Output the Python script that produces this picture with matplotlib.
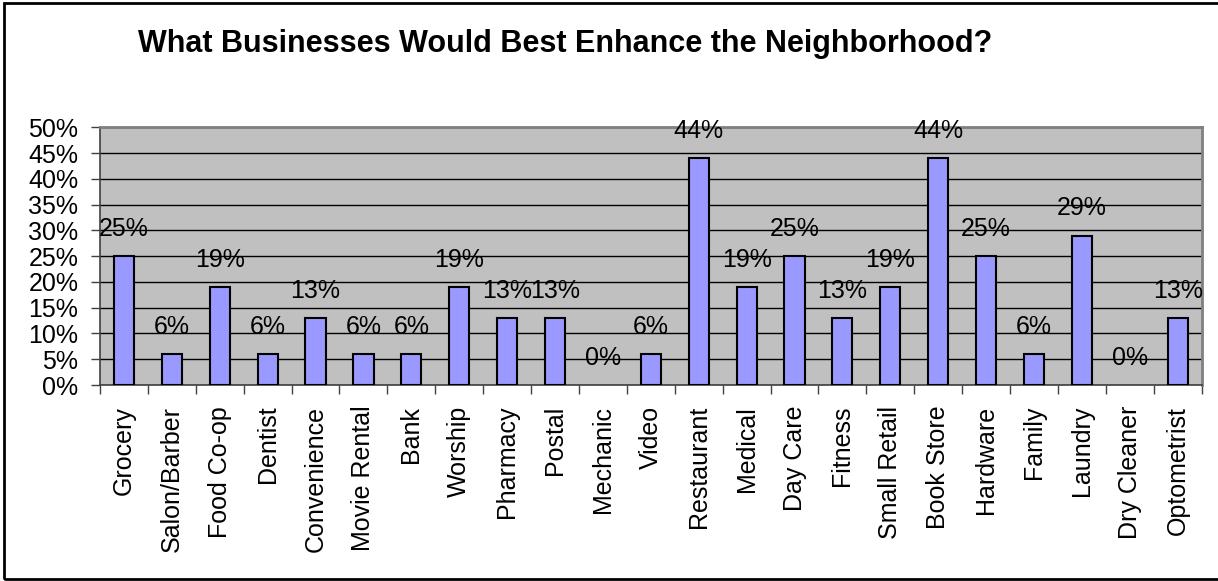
import matplotlib
matplotlib.use("Agg")
import matplotlib.pyplot as plt
from matplotlib.patches import Rectangle
import numpy as np

# data (percent of respondents)
categories = ['Grocery', 'Salon/Barber', 'Food Co-op', 'Dentist', 'Convenience',
              'Movie Rental', 'Bank', 'Worship', 'Pharmacy', 'Postal', 'Mechanic',
              'Video', 'Restaurant', 'Medical', 'Day Care', 'Fitness', 'Small Retail',
              'Book Store', 'Hardware', 'Family', 'Laundry', 'Dry Cleaner', 'Optometrist']
values = [25, 6, 19, 6, 13, 6, 6, 19, 13, 13, 0, 6, 44, 19, 25, 13, 19, 44, 25, 6, 29, 0, 13]
y_ticks = [0, 5, 10, 15, 20, 25, 30, 35, 40, 45, 50]

plt.rcParams['font.family'] = ['Liberation Sans', 'DejaVu Sans']

fig = plt.figure(figsize=(12.18, 5.81), dpi=100)
ax = fig.add_axes([0.0821, 0.3373, 0.9045, 0.4436])

x = np.arange(len(categories))
ax.set_facecolor('#C0C0C0')
bars = ax.bar(x, values, width=0.42, color='#9999FF', edgecolor='black', linewidth=1.5, zorder=3)
# zero-height bars are not drawn at all in the original
for b, v in zip(bars, values):
    if v == 0:
        b.set_visible(False)

# data labels above each bar
for xi, v in zip(x, values):
    ax.annotate(f'{v}%', (xi, v), xytext=(0, 14.5), textcoords='offset points',
                ha='center', va='baseline', fontsize=18, clip_on=False, zorder=4)

ax.set_xlim(-0.5, len(categories) - 0.5)
ax.set_ylim(0, 50)
ax.set_yticks(y_ticks)
ax.set_yticklabels([f'{t}%' for t in y_ticks], fontsize=18)
ax.yaxis.grid(True, color='black', linewidth=1, zorder=1)
ax.set_axisbelow(True)

# category labels at centres, tick marks at category boundaries
ax.set_xticks(x)
ax.set_xticklabels(categories, rotation=90, fontsize=18, va='top', ha='center')
ax.set_xticks(np.arange(len(categories) + 1) - 0.5, minor=True)
ax.tick_params(axis='x', which='major', length=0, pad=15)
ax.tick_params(axis='x', which='minor', length=6.5, width=1, color='#404040', direction='out')
ax.tick_params(axis='y', length=6.5, width=1, color='#404040', pad=9, direction='out')

for side in ['top', 'right']:
    ax.spines[side].set_color('#808080')
    ax.spines[side].set_linewidth(2)
for side in ['left', 'bottom']:
    ax.spines[side].set_color('#404040')
    ax.spines[side].set_linewidth(1.2)

fig.text(0.464, 0.924, 'What Businesses Would Best Enhance the Neighborhood?',
         ha='center', va='center', fontsize=22, fontweight='bold')

# black frame around the chart (right side runs off the image)
fig.patches.append(Rectangle((0.003, 0.004), 1.02, 0.991, transform=fig.transFigure,
                             fill=False, edgecolor='black', linewidth=2))

fig.savefig('out.png', dpi=100)
